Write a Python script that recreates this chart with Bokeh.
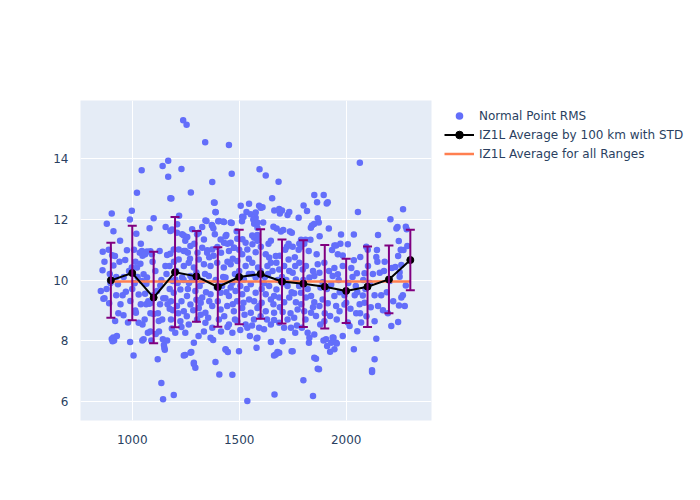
from bokeh.plotting import figure
from bokeh.models import Range1d, Legend, LegendItem, Whisker, ColumnDataSource, FixedTicker, TeeHead
from bokeh.embed import file_html
from bokeh.resources import INLINE

# ---- Normal point RMS values, grouped by 100 km bins: (range km, rms) ----
np_0900 = [(862,10.93),(881,11.86),(904,12.20),(912,11.61),(906,10.82),(919,10.79),(861,10.32),(912,10.48),(933,9.86),(853,9.64),
           (865,9.38),(892,9.23),(920,8.65),(904,8.05),(915,8.0),(911,8.10),(928,8.15),(908,7.98),(870,9.4),(898,9.9),
           (925,10.1),(940,10.6),(895,10.2),(880,9.7),(945,9.2),(935,8.9),(890,11.0),(870,10.6),(943,11.3),(925,9.5)]
np_1000 = [(975,10.98),(967,10.66),(998,12.29),(989,12.0),(1019,11.53),(1022,12.88),(1044,13.63),(998,10.41),(1022,10.41),(1038,10.54),
           (970,9.61),(991,9.31),(1011,9.89),(1030,9.52),(1045,9.97),(1014,8.99),(1017,8.92),(959,8.84),(1030,8.59),(1048,8.53),
           (1006,7.51),(1047,8.0),(1048,10.8),(1035,10.9),(960,10.1),(985,10.3),(1000,9.7),(1040,9.2),(980,8.6),(1025,10.1),
           (1008,11.0),(955,9.5),(1015,10.6),(1040,11.2),(990,7.95),(1045,10.96)]
np_1100 = [(1053,10.19),(1069,10.08),(1066,9.88),(1065,9.2),(1075,9.3),(1088,9.25),(1080,9.22),(1108,10.3),(1116,9.64),(1131,9.82),
           (1136,10.0),(1085,8.9),(1100,8.88),(1120,8.9),(1124,8.65),(1140,8.7),(1073,8.26),(1085,8.3),(1053,8.04),(1089,8.0),
           (1110,8.22),(1125,8.3),(1143,8.04),(1148,7.85),(1150,7.76),(1119,7.38),(1100,12.04),(1081,11.71),(1142,13.77),(1069,10.94),
           (1092,10.85),(1128,10.96),(1060,10.85),(1085,10.95),(1136,6.6),(1144,6.06),(1100,9.5),(1060,9.55),(1130,9.2),(1095,10.6),
           (1145,9.4),(1058,8.7)]
np_1200 = [(1168,13.94),(1168,13.41),(1230,13.67),(1178,12.70),(1219,12.12),(1156,11.75),(1178,11.62),(1210,11.84),(1233,11.51),(1183,12.69),
           (1163,10.83),(1178,10.87),(1217,11.01),(1241,10.96),(1155,10.46),(1174,10.46),(1190,9.97),(1155,9.4),(1165,9.2),(1175,9.05),
           (1181,9.3),(1190,9.0),(1181,8.7),(1163,8.0),(1152,7.7),(1194,6.2),(1247,7.52),(1186,11.67),(1209,11.56),(1241,11.47),
           (1248,11.3),(1194,11.01),(1248,10.96),(1217,10.68),(1241,10.46),(1201,10.02),(1233,10.08),(1194,9.58),(1225,9.69),(1209,9.14),
           (1241,8.97),(1225,8.64),(1201,8.26),(1248,8.26),(1241,7.51),(1238,15.28),(1160,10.2),(1205,10.3),(1230,9.3),(1215,8.9),
           (1195,10.6),(1240,10.0),(1175,9.7),(1212,9.9),(1185,8.4),(1230,8.45)]
np_1300 = [(1254,15.13),(1341,14.55),(1274,12.89),(1280,11.68),(1257,11.42),(1311,11.56),(1327,11.75),(1347,11.95),(1327,11.07),(1351,10.98),
           (1342,11.97),(1303,11.51),(1335,11.34),(1272,11.12),(1350,10.9),(1264,10.57),(1288,10.41),(1311,10.68),(1335,10.52),(1272,10.13),
           (1327,9.97),(1256,9.47),(1295,9.64),(1327,9.42),(1272,9.19),(1311,9.08),(1342,8.92),(1264,8.53),(1303,8.70),(1342,8.59),
           (1288,7.93),(1272,7.6),(1288,7.27),(1295,7.1),(1288,7.23),(1276,7.62),(1260,10.9),(1280,10.0),(1300,10.25),(1315,9.8),
           (1265,9.9),(1340,10.2),(1300,9.35),(1285,9.0),(1320,8.85),(1255,8.8),(1335,8.3),(1310,8.15),(1290,11.2),(1345,9.6),
           (1270,10.7),(1305,10.9),(1320,9.25),(1260,9.7)]
np_1400 = [(1452,14.46),(1374,13.24),(1385,12.55),(1390,12.24),(1372,11.82),(1402,11.94),(1429,11.92),(1379,11.71),(1386,11.51),(1440,11.49),
           (1398,11.09),(1429,11.23),(1445,11.2),(1382,12.56),(1389,12.25),(1405,11.95),(1425,11.93),(1374,11.79),(1413,11.34),(1436,11.45),
           (1374,11.01),(1366,10.46),(1397,10.57),(1428,10.41),(1358,10.13),(1436,10.08),(1366,9.53),(1413,9.58),(1374,9.14),(1413,9.03),
           (1444,9.14),(1374,8.42),(1405,8.70),(1366,8.09),(1378,8.02),(1436,7.71),(1447,7.62),(1389,7.29),(1407,6.88),(1437,7.7),
           (1390,10.0),(1420,9.8),(1440,9.6),(1360,9.3),(1400,9.3),(1430,8.8),(1355,8.75),(1415,8.3),(1445,8.45),(1380,10.8),
           (1415,10.9),(1360,10.75),(1395,9.75),(1445,10.6),(1425,10.1)]
np_1500 = [(1465,13.51),(1507,12.45),(1546,12.52),(1534,12.25),(1520,12.08),(1513,11.94),(1465,11.88),(1488,11.61),(1476,11.07),(1515,11.35),
           (1514,12.09),(1554,12.17),(1460,11.90),(1460,11.23),(1491,11.36),(1530,11.23),(1452,10.96),(1475,11.07),(1514,10.85),(1538,11.01),
           (1460,10.52),(1491,10.63),(1530,10.46),(1468,9.91),(1522,10.02),(1452,9.47),(1483,9.64),(1514,9.53),(1546,9.36),(1475,8.97),
           (1514,9.08),(1491,8.64),(1530,8.53),(1452,8.53),(1468,8.26),(1538,8.42),(1550,8.15),(1499,7.65),(1468,6.87),(1538,6.0),
           (1500,10.3),(1480,10.2),(1545,10.2),(1505,9.8),(1460,9.75),(1535,9.7),(1490,9.3),(1470,9.2),(1525,8.85),(1505,8.35),
           (1480,8.7),(1545,10.7),(1500,11.0),(1470,10.7),(1520,9.25),(1490,10.0)]
np_1600 = [(1595,13.66),(1624,13.45),(1570,11.86),(1577,12.06),(1585,11.49),(1570,11.4),(1562,11.18),(1566,12.0),(1585,11.9),(1577,12.23),
           (1561,11.47),(1588,11.34),(1577,10.92),(1561,10.57),(1588,10.41),(1554,9.86),(1577,10.08),(1577,9.58),(1554,8.92),(1585,9.08),
           (1569,8.70),(1585,8.09),(1581,7.76),(1581,8.07),(1593,12.45),(1609,12.4),(1612,11.9),(1601,12.39),(1585,11.73),(1648,11.3),
           (1637,11.2),(1585,11.3),(1601,11.1),(1624,10.85),(1640,10.74),(1648,10.57),(1632,10.46),(1640,9.80),(1616,9.89),(1624,9.53),
           (1648,9.36),(1605,9.25),(1593,9.14),(1624,8.97),(1593,8.42),(1616,8.37),(1648,8.53),(1648,7.95),(1620,10.1),(1600,10.3),
           (1560,10.2),(1605,9.7),(1635,10.2),(1570,9.3),(1600,8.8),(1630,8.7),(1560,8.5)]
np_1700 = [(1684,13.25),(1654,12.70),(1664,12.3),(1700,12.3),(1690,12.2),(1726,12.15),(1687,12.35),(1734,12.25),(1660,11.76),(1675,11.7),
           (1695,11.6),(1706,11.65),(1746,11.56),(1737,11.6),(1723,11.1),(1731,11.2),(1750,11.1),(1671,10.79),(1674,10.57),(1687,10.35),
           (1656,10.30),(1710,10.46),(1731,10.68),(1734,10.30),(1750,10.24),(1726,9.80),(1703,9.89),(1674,9.69),(1663,9.47),(1687,9.42),
           (1710,9.27),(1734,9.42),(1663,8.92),(1703,8.94),(1726,8.70),(1663,8.68),(1687,8.59),(1710,8.42),(1742,8.42),(1703,7.98),
           (1679,7.62),(1663,7.51),(1665,6.22),(1671,7.54),(1687,7.6),(1745,7.65),(1700,10.1),(1720,10.0),(1680,10.0),(1745,9.6),
           (1690,9.1),(1740,8.9),(1660,9.2),(1715,11.0),(1690,10.8)]
np_1800 = [(1778,12.06),(1801,12.46),(1817,12.28),(1840,11.8),(1835,11.73),(1789,11.33),(1810,11.33),(1833,11.33),(1804,11.2),(1781,11.2),
           (1789,11.1),(1825,10.96),(1762,10.46),(1781,10.57),(1797,10.35),(1812,10.46),(1765,10.02),(1828,10.08),(1757,9.56),(1765,9.27),
           (1789,9.58),(1812,9.42),(1836,9.47),(1773,9.03),(1804,8.97),(1836,8.92),(1757,8.75),(1762,8.26),(1793,8.42),(1820,8.26),
           (1828,8.09),(1826,7.93),(1750,7.65),(1800,6.69),(1845,6.17),(1778,11.0),(1800,10.0),(1780,9.8),(1820,9.7),(1845,10.3),
           (1760,10.75),(1810,8.7),(1790,9.2),(1845,9.1),(1770,8.5)]
np_1900 = [(1851,12.81),(1895,12.81),(1864,12.57),(1914,12.57),(1909,12.53),(1867,12.04),(1872,11.9),(1850,11.85),(1919,11.7),(1876,11.45),
           (1862,10.85),(1934,10.99),(1945,11.14),(1867,10.52),(1898,10.57),(1945,10.40),(1875,10.24),(1851,10.13),(1890,9.93),(1937,10.13),
           (1851,9.27),(1875,9.14),(1890,9.36),(1914,9.23),(1945,9.47),(1859,8.81),(1879,8.53),(1898,8.64),(1925,8.81),(1851,8.20),
           (1906,8.04),(1930,7.93),(1941,8.09),(1894,8.0),(1911,7.82),(1925,7.63),(1945,7.71),(1859,7.40),(1867,7.07),(1873,7.05),
           (1851,7.43),(1910,9.7),(1880,9.75),(1930,9.85),(1920,10.3),(1900,8.9)]
np_2000 = [(1953,11.14),(1961,10.85),(1984,10.81),(1976,11.5),(1973,11.2),(2036,11.5),(2008,11.18),(2055,12.25),(1961,10.19),(1984,10.46),
           (2036,10.65),(2024,10.4),(2050,10.22),(1953,9.14),(1969,8.97),(1992,9.19),(1992,9.5),(2000,9.25),(2040,9.5),(2045,9.8),
           (2030,10.1),(2052,9.6),(2047,8.9),(2016,8.48),(2052,8.31),(2008,8.6),(1956,8.70),(1953,7.93),(1984,8.15),(1937,8.1),
           (1956,7.9),(2036,7.71),(2010,9.9),(1970,9.6),(2020,9.05),(1965,10.0)]
np_2100 = [(2064,13.87),(2066,10.76),(2094,11.1),(2101,11.0),(2149,11.49),(2141,10.76),(2144,10.99),(2146,10.6),(2086,10.22),(2102,10.46),
           (2078,9.49),(2063,9.2),(2086,9.25),(2149,9.14),(2133,9.5),(2065,8.9),(2070,8.6),(2133,8.64),(2141,8.06),(2121,6.96),
           (2133,7.38),(2121,7.02),(2110,9.9),(2090,9.7),(2125,10.2),(2080,10.0),(2115,9.1),(2095,8.8)]
np_2200 = [(2207,12.01),(2240,11.75),(2235,11.7),(2246,11.29),(2243,10.79),(2157,10.24),(2177,10.3),(2164,9.5),(2172,9.0),(2204,9.97),
           (2214,10.4),(2230,10.43),(2247,9.16),(2243,8.61),(2211,8.48),(2190,9.6),(2220,9.3),(2180,10.6),(2195,8.9)]
np_2300 = [(2266,12.34),(2279,11.76),(2283,11.68),(2286,11.12),(2255,11.0),(2268,10.99),(2258,10.99),(2250,10.26),(2258,10.5),(2250,10.11),
           (2279,9.82),(2258,9.42),(2274,9.14),(2265,9.5)]

# ---- Averages by 100 km with standard deviation ----
avg_range = [900, 1000, 1100, 1200, 1300, 1400, 1500, 1600, 1700, 1800, 1900, 2000, 2100, 2200, 2300]
avg_rms = [9.99, 10.23, 9.42, 10.26, 10.12, 9.77, 10.10, 10.20, 9.95, 9.88, 9.78, 9.64, 9.78, 10.02, 10.66]
avg_std = [1.24, 1.56, 1.51, 1.82, 1.50, 1.31, 1.56, 1.48, 1.39, 1.43, 1.38, 1.06, 1.33, 1.12, 1.00]
overall_avg = 9.95
overall_span = [900, 2300]

x_ticks = [1000, 1500, 2000]
y_ticks = [6, 8, 10, 12, 14]

all_pts = (np_0900 + np_1000 + np_1100 + np_1200 + np_1300 + np_1400 + np_1500 + np_1600
           + np_1700 + np_1800 + np_1900 + np_2000 + np_2100 + np_2200 + np_2300)
pts_x = [a for a, b in all_pts]
pts_y = [b for a, b in all_pts]

FONT = "DejaVu Sans"
TXT = "#2a3f5f"

p = figure(frame_width=351, frame_height=320, output_backend="svg", toolbar_location=None,
           x_range=Range1d(758, 2399), y_range=Range1d(5.36, 15.93),
           min_border_left=80, min_border_top=100, min_border_right=10, min_border_bottom=70)
p.background_fill_color = "#E5ECF6"
p.border_fill_color = "white"
p.outline_line_color = None

for ax in (p.xaxis[0], p.yaxis[0]):
    ax.axis_line_color = None
    ax.major_tick_line_color = None
    ax.minor_tick_line_color = None
    ax.major_label_text_font = FONT
    ax.major_label_text_font_size = "12px"
    ax.major_label_text_color = TXT
p.xaxis.ticker = FixedTicker(ticks=x_ticks)
p.yaxis.ticker = FixedTicker(ticks=y_ticks)
p.xaxis.major_label_standoff = 8
p.yaxis.major_label_standoff = 6
p.xgrid.ticker = FixedTicker(ticks=x_ticks)
p.ygrid.ticker = FixedTicker(ticks=y_ticks)
p.grid.grid_line_color = "white"
p.grid.grid_line_width = 1

r_pts = p.scatter(pts_x, pts_y, size=6.5, fill_color="#636efa", line_color=None)

err_src = ColumnDataSource(dict(
    x=avg_range,
    upper=[m + s for m, s in zip(avg_rms, avg_std)],
    lower=[m - s for m, s in zip(avg_rms, avg_std)],
))
wh = Whisker(source=err_src, base="x", upper="upper", lower="lower",
             line_color="purple", line_width=2, level="glyph",
             upper_head=TeeHead(size=9, line_color="purple", line_width=2),
             lower_head=TeeHead(size=9, line_color="purple", line_width=2))
p.add_layout(wh)

r_all = p.line(overall_span, [overall_avg, overall_avg], line_color="#FF7F50", line_width=2.5)
r_avg_line = p.line(avg_range, avg_rms, line_color="black", line_width=2)
r_avg_pts = p.scatter(avg_range, avg_rms, size=7, fill_color="black", line_color="black")

legend = Legend(items=[
    LegendItem(label="Normal Point RMS", renderers=[r_pts]),
    LegendItem(label="IZ1L Average by 100 km with STD", renderers=[r_avg_line, r_avg_pts]),
    LegendItem(label="IZ1L Average for all Ranges", renderers=[r_all]),
], location=(13, 257))
legend.background_fill_alpha = 0
legend.border_line_color = None
legend.padding = 0
legend.margin = 0
legend.spacing = 0
legend.glyph_width = 30
legend.glyph_height = 19
legend.label_height = 19
legend.label_standoff = 5
legend.label_text_font = FONT
legend.label_text_font_size = "12px"
legend.label_text_color = TXT
p.add_layout(legend, "right")

open("out.html", "w").write(file_html(p, INLINE))
